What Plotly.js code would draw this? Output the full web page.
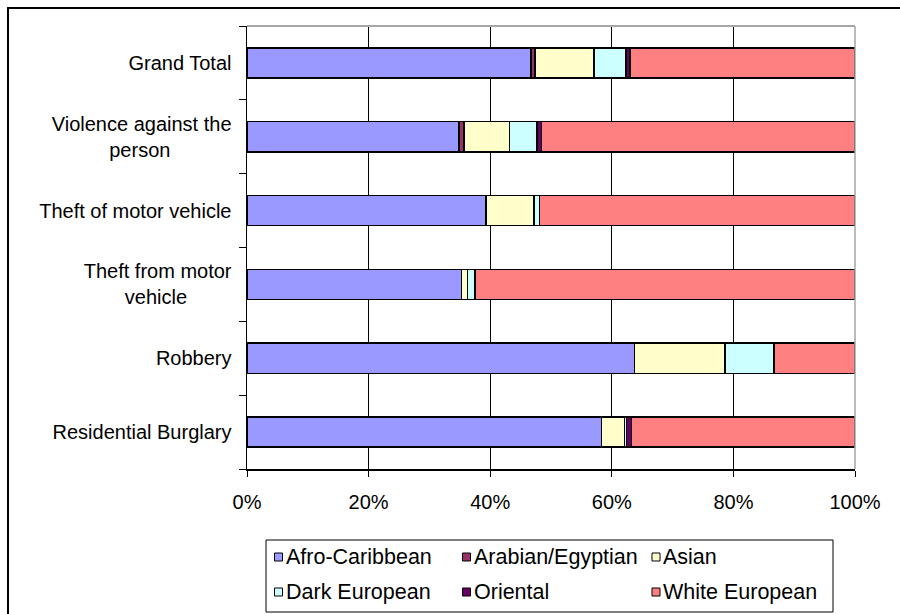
<!DOCTYPE html>
<html>
<head>
<meta charset="utf-8">
<script src="https://cdn.plot.ly/plotly-3.0.1.min.js"></script>
<style>
  html, body { margin: 0; padding: 0; background: #fff; }
  #chart { width: 900px; height: 614px; }
</style>
</head>
<body>
<div id="chart"></div>
<script>
// ---- Data (percent of each offence category) ----
const categories = ["Grand Total", "Violence against the person", "Theft of motor vehicle",
                    "Theft from motor vehicle", "Robbery", "Residential Burglary"];
const tickLabels = ["Grand Total",
                    "Violence against the<br>person" + "&nbsp;".repeat(11),
                    "Theft of motor vehicle",
                    "Theft from motor<br>vehicle" + "&nbsp;".repeat(8),
                    "Robbery", "Residential Burglary"];
const seriesNames = ["Afro-Caribbean", "Arabian/Egyptian", "Asian", "Dark European", "Oriental", "White European"];
const afroCaribbean   = [46.7, 34.9, 39.3, 35.3, 63.7, 58.3];
const arabianEgyptian = [0.7, 0.8, 0.0, 0.0, 0.0, 0.0];
const asian           = [9.7, 7.5, 7.9, 1.0, 14.9, 3.8];
const darkEuropean    = [5.2, 4.5, 0.9, 1.2, 8.1, 0.3];
const oriental        = [0.7, 0.7, 0.0, 0.0, 0.0, 0.8];
const whiteEuropean   = [37.0, 51.6, 51.9, 62.5, 13.3, 36.8];
const xTickVals   = [0, 20, 40, 60, 80, 100];
const xTickLabels = ["0%", "20%", "40%", "60%", "80%", "100%"];

const seriesValues = [afroCaribbean, arabianEgyptian, asian, darkEuropean, oriental, whiteEuropean];
const seriesColors = ["#9999FF", "#993366", "#FFFFCC", "#CCFFFF", "#660066", "#FF8080"];

const FONT = "Liberation Sans, Arial, sans-serif";
const FS = 20;

// plot area in pixels
const L = 247, R = 855, T = 26, B = 469;
const px2x = p => (p - L) / (R - L);
const py2y = p => (B - p) / (B - T);

const traces = seriesNames.map((name, i) => ({
  type: "bar",
  orientation: "h",
  name: name,
  y: categories,
  x: seriesValues[i],
  marker: { color: seriesColors[i], line: { color: "#000", width: 1.5 } },
  showlegend: false,
  hoverinfo: "skip"
}));

const shapes = [];
const annotations = [];

// plot area top and right border (gray)
shapes.push({ type: "line", xref: "paper", yref: "paper", x0: 0, x1: 1, y0: 1, y1: 1,
              line: { color: "#a6a6a6", width: 2 } });
shapes.push({ type: "line", xref: "paper", yref: "paper", x0: 1, x1: 1, y0: 0, y1: 1,
              line: { color: "#a6a6a6", width: 1.5 } });
// outer chart frame
shapes.push({ type: "rect", xref: "paper", yref: "paper",
              x0: px2x(8), x1: px2x(1000), y0: py2y(800), y1: py2y(8),
              line: { color: "#000", width: 2 }, fillcolor: "rgba(0,0,0,0)" });
// legend box
shapes.push({ type: "rect", xref: "paper", yref: "paper",
              x0: px2x(266), x1: px2x(833), y0: py2y(612), y1: py2y(540),
              line: { color: "#000", width: 1 }, fillcolor: "#fff" });
const colSym = [278.5, 466.5, 656];
const rowY = [557, 592];
seriesNames.forEach((name, i) => {
  const c = i % 3, r = Math.floor(i / 3);
  const cx = colSym[c], cy = rowY[r];
  shapes.push({ type: "rect", xref: "paper", yref: "paper",
                x0: px2x(cx - 4), x1: px2x(cx + 4), y0: py2y(cy + 4), y1: py2y(cy - 4),
                line: { color: "#000", width: 1 }, fillcolor: seriesColors[i] });
  annotations.push({ xref: "paper", yref: "paper", x: px2x(cx + 5), y: py2y(cy),
                     xanchor: "left", yanchor: "middle", showarrow: false,
                     text: name, font: { family: FONT, size: 21.5, color: "#000" } });
});

const layout = {
  width: 900, height: 614,
  margin: { l: L, r: 900 - R, t: T, b: 614 - B, pad: 0 },
  paper_bgcolor: "#fff", plot_bgcolor: "#fff",
  barmode: "stack",
  bargap: 0.59,
  font: { family: FONT, size: FS, color: "#000" },
  showlegend: false,
  xaxis: {
    range: [0, 100], tickvals: xTickVals, ticktext: xTickLabels,
    showgrid: true, gridcolor: "#000", gridwidth: 1,
    zeroline: false, showline: true, linecolor: "#000", linewidth: 1.5,
    ticks: "outside", ticklen: 6, tickcolor: "#000", tickwidth: 1,
    ticklabelstandoff: 8,
    tickfont: { family: FONT, size: FS, color: "#000" },
    fixedrange: true
  },
  yaxis: {
    type: "category", categoryorder: "array", categoryarray: categories,
    autorange: "reversed",
    tickvals: categories, ticktext: tickLabels,
    showgrid: false, zeroline: false,
    showline: true, linecolor: "#000", linewidth: 1.5,
    ticks: "outside", tickson: "boundaries", ticklen: 7, tickcolor: "#000", tickwidth: 1,
    ticklabelstandoff: 10,
    tickfont: { family: FONT, size: FS, color: "#000" },
    fixedrange: true
  },
  shapes: shapes,
  annotations: annotations
};

Plotly.newPlot("chart", traces, layout, { displayModeBar: false, staticPlot: true });
</script>
</body>
</html>
